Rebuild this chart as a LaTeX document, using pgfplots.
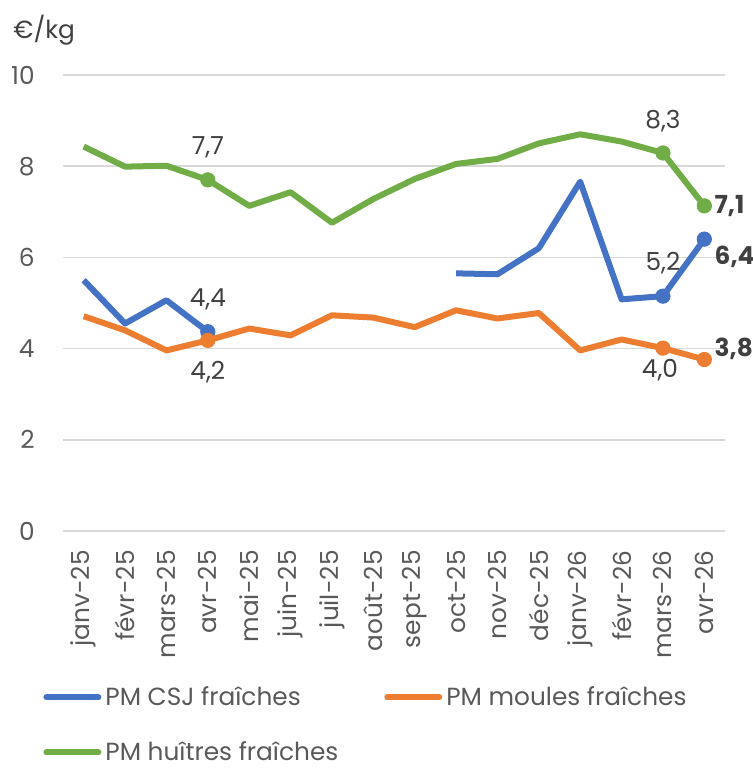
\documentclass[border=0pt]{standalone}
\usepackage{pgfplots}
\pgfplotsset{compat=1.18}
\usepackage{fontspec}
\setmainfont{Poppins}
\definecolor{cblue}{HTML}{4472C4}
\definecolor{corange}{HTML}{ED7D31}
\definecolor{cgreen}{HTML}{70AD47}
\definecolor{cgrid}{HTML}{D9D9D9}
\definecolor{ctick}{HTML}{595959}
\definecolor{clab}{HTML}{404040}
\newcommand\ff{\fontsize{12.4}{14}\selectfont}
\begin{document}
\begin{tikzpicture}
\path[use as bounding box] (-31.5pt,-119pt) rectangle (344.5pt,265.5pt);
\begin{axis}[
  at={(0,0)}, anchor=south west,
  scale only axis, width=331pt, height=228pt,
  xmin=-0.5, xmax=15.5, ymin=0, ymax=10,
  clip=false,
  axis line style={draw=none},
  major tick length=0pt,
  ytick={0,2,4,6,8,10},
  ymajorgrids, grid style={cgrid, line width=0.75pt},
  xtick={0,...,15},
  xticklabels={janv-25,févr-25,mars-25,avr-25,mai-25,juin-25,juil-25,août-25,sept-25,oct-25,nov-25,déc-25,janv-26,févr-26,mars-26,avr-26},
  xticklabel style={rotate=90, anchor=east, inner sep=0pt, font=\ff, text=ctick},
  xticklabel shift=9.5pt,
  yticklabel style={anchor=east, inner sep=0pt, font=\ff, text=ctick},
  yticklabel shift=14pt,
  /pgf/number format/assume math mode=true,
  unbounded coords=jump,
  legend columns=2,
  legend style={at={(rel axis cs:0,0)}, anchor=north west, xshift=-10pt, yshift=-75.5pt,
    draw=none, fill=none, inner sep=0pt, font=\ff, text=ctick,
    /tikz/every even column/.append style={column sep=21pt},
    row sep=12.5pt},
  legend cell align=left,
  legend image code/.code={\draw[#1, line width=3pt, line cap=round] (0pt,0pt) -- (26pt,0pt);},
]
\addplot[cblue, line width=3pt, line join=round, mark=none] coordinates {
(0,5.50) (1,4.55) (2,5.06) (3,4.37) (4,nan) (5,nan) (6,nan) (7,nan) (8,nan)
(9,5.65) (10,5.63) (11,6.20) (12,7.66) (13,5.08) (14,5.15) (15,6.40)};
\addlegendentry{PM CSJ fraîches}
\addplot[corange, line width=3pt, line join=round, mark=none] coordinates {
(0,4.71) (1,4.40) (2,3.96) (3,4.18) (4,4.44) (5,4.29) (6,4.73) (7,4.68) (8,4.47)
(9,4.84) (10,4.66) (11,4.78) (12,3.96) (13,4.20) (14,4.01) (15,3.76)};
\addlegendentry{PM moules fraîches}
\addplot[cgreen, line width=3pt, line join=round, mark=none] coordinates {
(0,8.43) (1,7.99) (2,8.01) (3,7.70) (4,7.13) (5,7.43) (6,6.76) (7,7.28) (8,7.72)
(9,8.05) (10,8.16) (11,8.50) (12,8.70) (13,8.54) (14,8.29) (15,7.13)};
\addlegendentry{PM huîtres fraîches}
% marks and labels
\pgfplotsset{mk/.style={forget plot, only marks, mark=*, mark size=3.6pt, color=#1,
  nodes near coords style={font=\ff, text=clab, anchor=center, inner sep=0pt}}}
\addplot[mk=cgreen, nodes near coords={7{,}7}, nodes near coords style={yshift=16.5pt}] coordinates {(3,7.70)};
\addplot[mk=cgreen, nodes near coords={8{,}3}, nodes near coords style={yshift=16pt}] coordinates {(14,8.29)};
\addplot[mk=cgreen, nodes near coords={\bfseries 7{,}1}, nodes near coords style={anchor=west, xshift=5pt}] coordinates {(15,7.13)};
\addplot[mk=cblue, nodes near coords={4{,}4}, nodes near coords style={yshift=16pt}] coordinates {(3,4.37)};
\addplot[mk=cblue, nodes near coords={5{,}2}, nodes near coords style={yshift=16.5pt}] coordinates {(14,5.15)};
\addplot[mk=cblue, nodes near coords={\bfseries 6{,}4}, nodes near coords style={anchor=west, xshift=5pt, yshift=-9pt}] coordinates {(15,6.40)};
\addplot[mk=corange, nodes near coords={4{,}2}, nodes near coords style={yshift=-16pt}] coordinates {(3,4.18)};
\addplot[mk=corange, nodes near coords={4{,}0}, nodes near coords style={yshift=-11pt, xshift=-1.5pt}] coordinates {(14,4.01)};
\addplot[mk=corange, nodes near coords={\bfseries 3{,}8}, nodes near coords style={anchor=west, xshift=5pt, yshift=5.5pt}] coordinates {(15,3.76)};
\node[anchor=west, font=\ff, text=clab, inner sep=0pt] at (rel axis cs:0,1) [xshift=-25pt, yshift=22.5pt] {€/kg};
\end{axis}
\end{tikzpicture}
\end{document}
